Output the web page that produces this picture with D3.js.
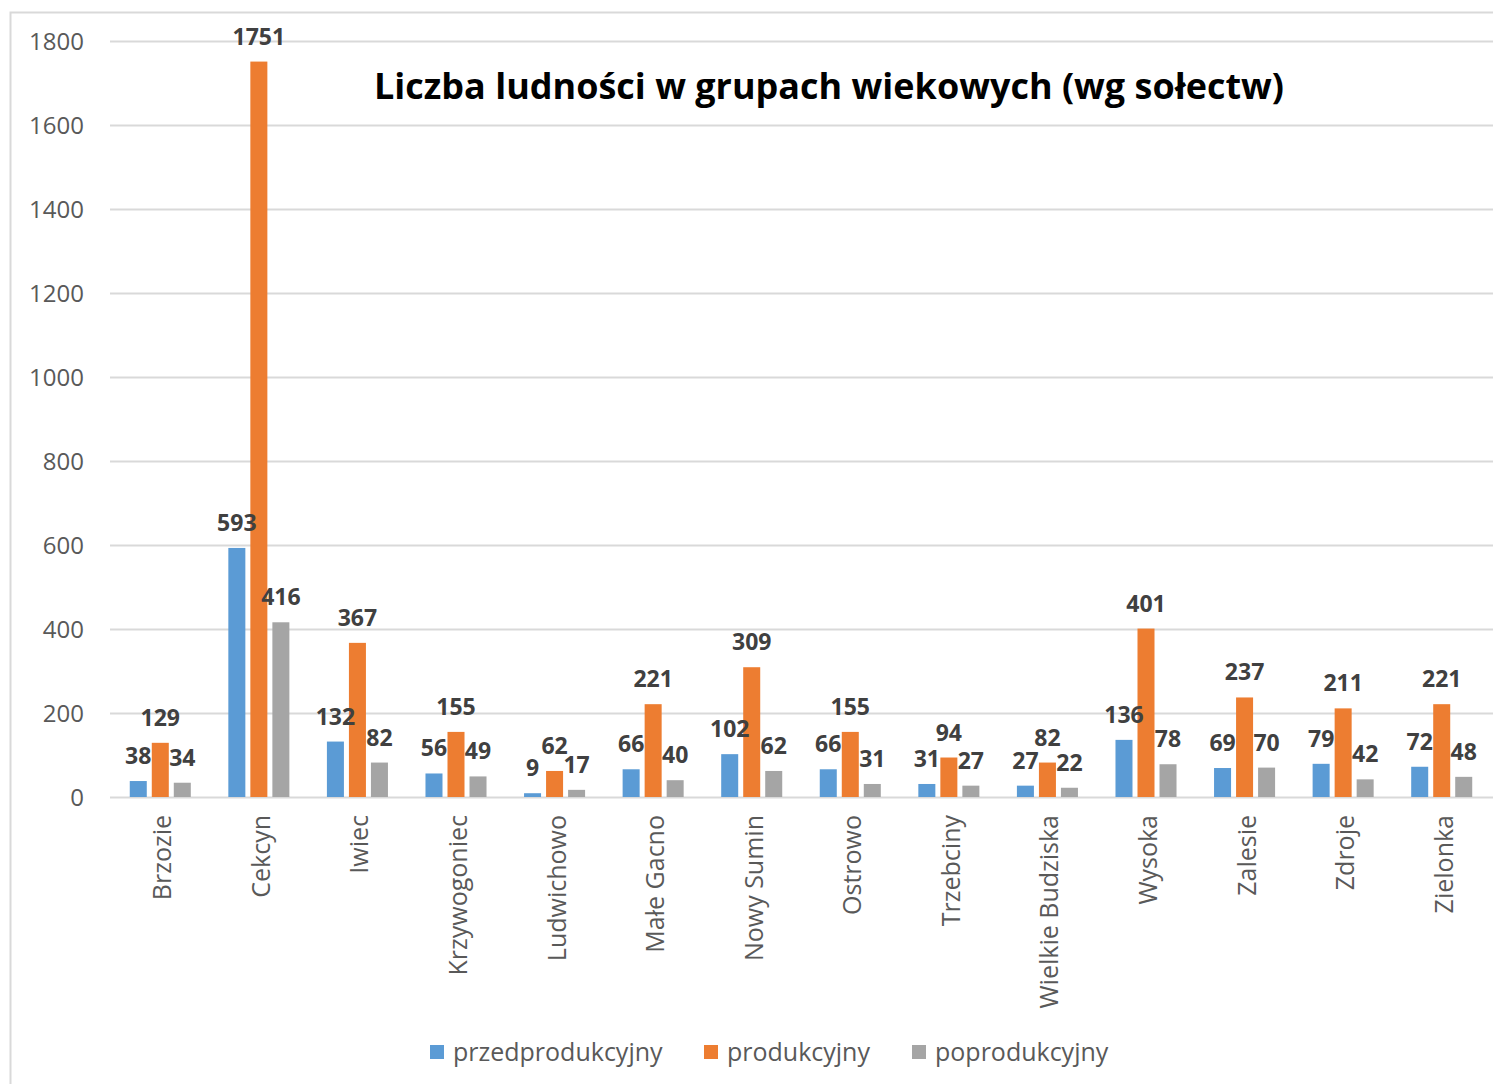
<!DOCTYPE html>
<html>
<head>
<meta charset="utf-8">
<script src="https://cdn.jsdelivr.net/npm/d3@7"></script>
<style>
  html, body { margin: 0; padding: 0; background: #fff; }
  svg { display: block; }
</style>
</head>
<body>
<svg id="chart" width="1493" height="1084"></svg>
<script>
// Village names (sołectwa)
const categories = ["Brzozie", "Cekcyn", "Iwiec", "Krzywogoniec", "Ludwichowo", "Małe Gacno",
  "Nowy Sumin", "Ostrowo", "Trzebciny", "Wielkie Budziska", "Wysoka", "Zalesie", "Zdroje", "Zielonka"];

// Age groups
const seriesNames = ["przedprodukcyjny", "produkcyjny", "poprodukcyjny"];
const seriesColors = ["#5B9BD5", "#ED7D31", "#A5A5A5"];

const przedprodukcyjny = [38, 593, 132, 56, 9, 66, 102, 66, 31, 27, 136, 69, 79, 72];
const produkcyjny      = [129, 1751, 367, 155, 62, 221, 309, 155, 94, 82, 401, 237, 211, 221];
const poprodukcyjny    = [34, 416, 82, 49, 17, 40, 62, 31, 27, 22, 78, 70, 42, 48];

const yTicks = [0, 200, 400, 600, 800, 1000, 1200, 1400, 1600, 1800];
const titleText = "Liczba ludności w grupach wiekowych (wg sołectw)";

const seriesValues = [przedprodukcyjny, produkcyjny, poprodukcyjny];
const font = "'Open Sans', 'DejaVu Sans', sans-serif";

const svg = d3.select("#chart");

// outer chart frame
svg.append("rect")
  .attr("x", 10.5).attr("y", 12.5)
  .attr("width", 1520).attr("height", 1100)
  .attr("fill", "#fff").attr("stroke", "#D9D9D9").attr("stroke-width", 2);

const plot = { left: 111, right: 1491, top: 41, bottom: 797 };

const y = d3.scaleLinear().domain([0, 1800]).range([plot.bottom, plot.top]);

const x0 = d3.scaleBand().domain(categories)
  .range([plot.left, plot.right])
  .paddingInner(0.33).paddingOuter(0.165);

const x1 = d3.scaleBand().domain(seriesNames)
  .range([0, x0.bandwidth()])
  .paddingInner(5 / 22).paddingOuter(0.1136);

const color = d3.scaleOrdinal().domain(seriesNames).range(seriesColors);

// gridlines
svg.append("g").selectAll("line").data(yTicks).join("line")
  .attr("x1", 110).attr("x2", 1493)
  .attr("y1", d => Math.round(y(d)) + 0.5).attr("y2", d => Math.round(y(d)) + 0.5)
  .attr("stroke", "#D9D9D9").attr("stroke-width", 2);

// y axis labels
const yAxis = d3.axisLeft(y).tickValues(yTicks).tickFormat(d3.format("d")).tickSize(0).tickPadding(0);
const yg = svg.append("g").attr("transform", "translate(84,0)").call(yAxis);
yg.select(".domain").remove();
yg.selectAll("text")
  .attr("font-family", font).attr("font-size", 24).attr("fill", "#595959")
  .attr("dy", "0.36em");

// bars
const rows = categories.map((c, i) => ({
  cat: c,
  vals: seriesNames.map((s, k) => ({ key: s, value: seriesValues[k][i] }))
}));

const groups = svg.append("g").selectAll("g").data(rows).join("g")
  .attr("transform", d => `translate(${x0(d.cat)},0)`);

groups.selectAll("rect").data(d => d.vals).join("rect")
  .attr("x", d => x1(d.key))
  .attr("y", d => y(d.value))
  .attr("width", x1.bandwidth())
  .attr("height", d => y(0) - y(d.value))
  .attr("fill", d => color(d.key));

// value labels
groups.selectAll("text").data(d => d.vals).join("text")
  .attr("x", d => x1(d.key) + x1.bandwidth() / 2)
  .attr("y", d => y(d.value) - 17)
  .attr("text-anchor", "middle")
  .attr("font-family", font).attr("font-weight", "bold").attr("font-size", 23)
  .attr("fill", "#404040")
  .text(d => d.value);

// category labels (rotated)
const xAxis = d3.axisBottom(x0).tickSize(0).tickPadding(0);
const xg = svg.append("g").attr("transform", `translate(0,${plot.bottom})`).call(xAxis);
xg.select(".domain").remove();
xg.selectAll("text")
  .attr("font-family", font).attr("font-size", 25).attr("fill", "#595959")
  .attr("text-anchor", "end")
  .attr("transform", "translate(2,18) rotate(-90)")
  .attr("x", 0).attr("y", 0).attr("dy", "0.36em");

// title
svg.append("text")
  .attr("x", 829).attr("y", 99)
  .attr("text-anchor", "middle")
  .attr("font-family", font).attr("font-weight", "bold").attr("font-size", 35)
  .attr("textLength", 910).attr("lengthAdjust", "spacingAndGlyphs")
  .attr("fill", "#000")
  .text(titleText);

// legend
const legendX = [430, 704, 912];
const legend = svg.append("g").selectAll("g").data(seriesNames).join("g")
  .attr("transform", (d, i) => `translate(${legendX[i]},1045)`);
legend.append("rect").attr("width", 14).attr("height", 14)
  .attr("fill", d => color(d));
legend.append("text")
  .attr("x", 23).attr("y", 7).attr("dy", "0.36em")
  .attr("font-family", font).attr("font-size", 25).attr("fill", "#595959")
  .text(d => d);
</script>
</body>
</html>
